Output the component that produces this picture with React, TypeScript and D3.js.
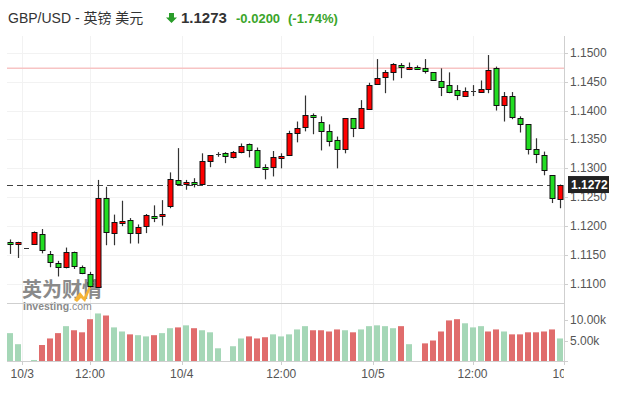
import * as d3 from 'd3'
import { useRef, useEffect } from 'react'

// hourly candles
const opens = [
  1.1173, 1.1169, 1.1162, 1.1170, 1.1186, 1.1151, 1.1136, 1.1129, 1.1155, 1.1129,
  1.1118, 1.1094, 1.1248, 1.1188, 1.1205, 1.1210, 1.1188, 1.1200, 1.1217, 1.1217,
  1.1234, 1.1279, 1.1272, 1.1276, 1.1272, 1.1312, 1.1324, 1.1326, 1.1321, 1.1328,
  1.1342, 1.1331, 1.1302, 1.1302, 1.1317, 1.1323, 1.1361, 1.1373, 1.1393, 1.1381,
  1.1364, 1.1349, 1.1333, 1.1387, 1.1369, 1.1404, 1.1445, 1.1457, 1.1466, 1.1478,
  1.1473, 1.1476, 1.1473, 1.1466, 1.1451, 1.1445, 1.1435, 1.1425, 1.1433, 1.1433,
  1.1438, 1.1473, 1.1409, 1.1425, 1.1387, 1.1376, 1.1333, 1.1323, 1.1288, 1.1248
]
const highs = [
  1.1177, 1.1173, 1.1162, 1.1191, 1.1195, 1.1157, 1.1140, 1.1163, 1.1156, 1.1132,
  1.1121, 1.1280, 1.1268, 1.1220, 1.1244, 1.1214, 1.1203, 1.1221, 1.1236, 1.1245,
  1.1293, 1.1335, 1.1280, 1.1283, 1.1326, 1.1323, 1.1328, 1.1328, 1.1330, 1.1343,
  1.1343, 1.1336, 1.1307, 1.1330, 1.1326, 1.1365, 1.1381, 1.1426, 1.1395, 1.1390,
  1.1376, 1.1355, 1.1387, 1.1387, 1.1418, 1.1448, 1.1489, 1.1470, 1.1482, 1.1482,
  1.1483, 1.1478, 1.1489, 1.1466, 1.1473, 1.1466, 1.1444, 1.1440, 1.1444, 1.1452,
  1.1496, 1.1476, 1.1432, 1.1432, 1.1390, 1.1376, 1.1352, 1.1329, 1.1288, 1.1272
]
const lows = [
  1.1152, 1.1145, 1.1162, 1.1169, 1.1153, 1.1129, 1.1113, 1.1127, 1.1126, 1.1117,
  1.1094, 1.1093, 1.1167, 1.1167, 1.1200, 1.1170, 1.1170, 1.1188, 1.1207, 1.1201,
  1.1231, 1.1271, 1.1263, 1.1267, 1.1272, 1.1302, 1.1320, 1.1309, 1.1317, 1.1326,
  1.1319, 1.1302, 1.1281, 1.1286, 1.1300, 1.1323, 1.1345, 1.1364, 1.1359, 1.1331,
  1.1338, 1.1300, 1.1326, 1.1354, 1.1369, 1.1402, 1.1445, 1.1430, 1.1452, 1.1456,
  1.1470, 1.1471, 1.1464, 1.1452, 1.1425, 1.1430, 1.1418, 1.1425, 1.1425, 1.1433,
  1.1430, 1.1400, 1.1381, 1.1385, 1.1362, 1.1324, 1.1309, 1.1288, 1.1240, 1.1231
]
const closes = [
  1.1169, 1.1173, 1.1162, 1.1190, 1.1158, 1.1137, 1.1129, 1.1155, 1.1131, 1.1118,
  1.1097, 1.1248, 1.1190, 1.1207, 1.1209, 1.1188, 1.1198, 1.1219, 1.1214, 1.1221,
  1.1281, 1.1272, 1.1276, 1.1272, 1.1312, 1.1323, 1.1324, 1.1321, 1.1329, 1.1338,
  1.1331, 1.1302, 1.1298, 1.1319, 1.1321, 1.1361, 1.1369, 1.1393, 1.1390, 1.1366,
  1.1347, 1.1333, 1.1387, 1.1369, 1.1404, 1.1445, 1.1456, 1.1466, 1.1480, 1.1475,
  1.1476, 1.1473, 1.1468, 1.1452, 1.1440, 1.1433, 1.1426, 1.1433, 1.1433, 1.1438,
  1.1470, 1.1409, 1.1425, 1.1388, 1.1376, 1.1333, 1.1324, 1.1297, 1.1248, 1.1272
]
const volumes = [
  6800, 4100, 0, 250, 3900, 5500, 6800, 8500, 7500, 7000,
  10200, 11600, 11100, 8200, 7200, 6500, 6300, 6000, 6300, 6800,
  8000, 8200, 8700, 8000, 7500, 7000, 3100, 0, 3600, 5500,
  6000, 5500, 5800, 6500, 6000, 6500, 7700, 8500, 7500, 7500,
  7200, 7700, 7500, 7000, 7700, 8500, 8700, 8500, 8000, 8500,
  4100, 0, 4300, 5000, 7200, 9900, 10200, 9200, 8200, 8500,
  7200, 7700, 7200, 6500, 6500, 7000, 7000, 7200, 7700, 5500
]
// 1 = green volume bar, 0 = red
const volumeUp = [
  1, 1, 1, 1, 0, 0, 0, 1, 0, 0,
  0, 1, 0, 1, 1, 0, 1, 1, 0, 1,
  1, 0, 1, 0, 1, 1, 1, 1, 1, 1,
  0, 0, 0, 1, 1, 1, 1, 1, 0, 0,
  0, 0, 1, 0, 1, 1, 1, 1, 1, 0,
  1, 1, 0, 0, 0, 0, 0, 1, 1, 1,
  0, 0, 1, 0, 0, 0, 0, 0, 0, 1
]

const timeTickPos = [1.5, 10, 21.5, 34, 45.5, 58, 69.5]
const timeTickLabels = ['10/3', '12:00', '10/4', '12:00', '10/5', '12:00', '10/6']
const priceTicks = [1.11, 1.115, 1.12, 1.125, 1.13, 1.135, 1.14, 1.145, 1.15]
const volumeTicks = [5000, 10000]
const prevClose = 1.1473
const lastPrice = 1.1272

const UP = '#ff0000'
const DOWN = '#22dd22'
const VOL_UP = '#a5d7b7'
const VOL_DOWN = '#e06c6c'

function App() {
  const svgRef = useRef()

  useEffect(() => {
    const svg = d3.select(svgRef.current)
    svg.selectAll('*').remove()

    const left = 7
    const right = 564
    const priceTop = 36
    const priceBottom = 303
    const volBottom = 361

    const scaleX = d3.scaleLinear().domain([0, 69]).range([10.3, 560.2])
    const scaleY = d3.scaleLinear().domain([1.10671, 1.1522]).range([priceBottom, 40])
    const scaleV = d3.scaleLinear().domain([0, 14150]).range([volBottom, priceBottom])

    const font = 'Arial, "Liberation Sans", "Noto Sans CJK SC", sans-serif'

    // grid
    const gGrid = svg.append('g')
    gGrid.selectAll('.vgrid')
      .data(timeTickPos)
      .join('line')
      .attr('x1', d => Math.round(scaleX(d)) + 0.5)
      .attr('x2', d => Math.round(scaleX(d)) + 0.5)
      .attr('y1', priceTop)
      .attr('y2', volBottom)
      .attr('stroke', '#f2f2f2')
    gGrid.selectAll('.hgrid')
      .data(priceTicks)
      .join('line')
      .attr('x1', left)
      .attr('x2', right)
      .attr('y1', d => Math.round(scaleY(d)) + 0.5)
      .attr('y2', d => Math.round(scaleY(d)) + 0.5)
      .attr('stroke', '#f2f2f2')

    // prev close line
    svg.append('line')
      .attr('x1', left).attr('x2', right)
      .attr('y1', scaleY(prevClose)).attr('y2', scaleY(prevClose))
      .attr('stroke', '#f7c4c4')
      .attr('stroke-width', 1.5)

    // watermark
    const gMark = svg.append('g')
    gMark.append('text')
      .attr('x', 22).attr('y', 297)
      .attr('font-family', '"Noto Sans CJK SC", sans-serif')
      .attr('font-weight', 'bold')
      .attr('font-size', 20)
      .attr('fill', '#8a8a8a')
      .attr('letter-spacing', 0)
      .text('英为财情')
    gMark.append('path')
      .attr('d', 'M74,300 L80,292 L84,297 L90,284 L92,285 L85,302 L81,298 L77,302 Z')
      .attr('fill', '#f5b335')
    gMark.append('text')
      .attr('x', 23).attr('y', 310)
      .attr('font-family', font)
      .attr('font-size', 10.5)
      .attr('fill', '#8a8a8a')
      .call(t => {
        t.append('tspan').attr('font-weight', 'bold').text('Investing')
        t.append('tspan').text('.com')
      })

    // last price dashed line
    svg.append('line')
      .attr('x1', left).attr('x2', right)
      .attr('y1', Math.round(scaleY(lastPrice)) + 0.5)
      .attr('y2', Math.round(scaleY(lastPrice)) + 0.5)
      .attr('stroke', '#444')
      .attr('stroke-dasharray', '6,4')

    // pane borders
    svg.append('line')
      .attr('x1', left).attr('x2', right)
      .attr('y1', priceBottom + 0.5).attr('y2', priceBottom + 0.5)
      .attr('stroke', '#cfcfcf')
    svg.append('line')
      .attr('x1', left).attr('x2', right + 4)
      .attr('y1', volBottom + 0.5).attr('y2', volBottom + 0.5)
      .attr('stroke', '#cfcfcf')
    svg.append('line')
      .attr('x1', right + 0.5).attr('x2', right + 0.5)
      .attr('y1', priceTop).attr('y2', volBottom)
      .attr('stroke', '#cfcfcf')

    // volume bars
    svg.append('g')
      .selectAll('rect')
      .data(volumes.map((v, i) => ({ v, i })).filter(d => d.v > 0))
      .join('rect')
      .attr('x', d => Math.round(scaleX(d.i)) - 3)
      .attr('width', 6)
      .attr('y', d => scaleV(d.v))
      .attr('height', d => volBottom - scaleV(d.v))
      .attr('fill', d => volumeUp[d.i] ? VOL_UP : VOL_DOWN)

    // candles
    const candles = opens.map((o, i) => ({ i, o, h: highs[i], l: lows[i], c: closes[i] }))
    const gCandle = svg.append('g')
    gCandle.selectAll('.wick')
      .data(candles)
      .join('line')
      .attr('x1', d => Math.round(scaleX(d.i)) + 0.5)
      .attr('x2', d => Math.round(scaleX(d.i)) + 0.5)
      .attr('y1', d => scaleY(d.h))
      .attr('y2', d => scaleY(d.l))
      .attr('stroke', '#333')
      .attr('stroke-width', 1.2)
    gCandle.selectAll('.flat')
      .data(candles.filter(d => d.o === d.c))
      .join('line')
      .attr('x1', d => Math.round(scaleX(d.i)) - 2)
      .attr('x2', d => Math.round(scaleX(d.i)) + 3)
      .attr('y1', d => Math.round(scaleY(d.o)) + 0.5)
      .attr('y2', d => Math.round(scaleY(d.o)) + 0.5)
      .attr('stroke', '#333')
    gCandle.selectAll('.body')
      .data(candles.filter(d => d.o !== d.c))
      .join('rect')
      .attr('x', d => Math.round(scaleX(d.i)) - 2)
      .attr('width', 5)
      .attr('y', d => Math.round(scaleY(Math.max(d.o, d.c))) + 0.5)
      .attr('height', d => Math.max(1, Math.round(Math.abs(scaleY(d.o) - scaleY(d.c)))))
      .attr('fill', d => d.c > d.o ? UP : DOWN)
      .attr('stroke', '#111')
      .attr('stroke-width', 1)

    // right axis
    const gAxis = svg.append('g').attr('font-family', font).attr('font-size', 12).attr('fill', '#555')
    gAxis.selectAll('.ptick')
      .data(priceTicks)
      .join('line')
      .attr('x1', right).attr('x2', right + 4)
      .attr('y1', d => Math.round(scaleY(d)) + 0.5)
      .attr('y2', d => Math.round(scaleY(d)) + 0.5)
      .attr('stroke', '#cfcfcf')
    gAxis.selectAll('.plabel')
      .data(priceTicks.filter(d => Math.abs(scaleY(d) - scaleY(lastPrice)) > 12))
      .join('text')
      .attr('x', 570)
      .attr('y', d => scaleY(d) + 4)
      .text(d => d3.format('.4f')(d))
    gAxis.selectAll('.vtick')
      .data(volumeTicks)
      .join('line')
      .attr('x1', right).attr('x2', right + 4)
      .attr('y1', d => Math.round(scaleV(d)) + 0.5)
      .attr('y2', d => Math.round(scaleV(d)) + 0.5)
      .attr('stroke', '#cfcfcf')
    gAxis.selectAll('.vlabel')
      .data(volumeTicks)
      .join('text')
      .attr('x', 570)
      .attr('y', d => scaleV(d) + 4)
      .text(d => (d / 1000).toFixed(2) + 'k')

    // label partly hidden under the price tag, kept below it
    const hidden = priceTicks.filter(d => Math.abs(scaleY(d) - scaleY(lastPrice)) <= 12)
    gAxis.selectAll('.plabel-hidden')
      .data(hidden)
      .join('text')
      .attr('x', 570)
      .attr('y', d => scaleY(d) + 4)
      .text(d => d3.format('.4f')(d))

    // last price tag
    const yLast = scaleY(lastPrice)
    svg.append('rect')
      .attr('x', 568).attr('y', yLast - 8.5)
      .attr('width', 41).attr('height', 17)
      .attr('fill', '#222')
    svg.append('text')
      .attr('x', 571).attr('y', yLast + 4.5)
      .attr('font-family', font).attr('font-size', 12).attr('font-weight', 'bold')
      .attr('fill', '#fff')
      .text(d3.format('.4f')(lastPrice))

    // bottom axis
    const gTime = svg.append('g')
    gTime.append('clipPath').attr('id', 'clip-time')
      .append('rect').attr('x', 0).attr('y', volBottom).attr('width', right).attr('height', 30)
    gTime.selectAll('.ttick')
      .data(timeTickPos)
      .join('line')
      .attr('x1', d => Math.round(scaleX(d)) + 0.5)
      .attr('x2', d => Math.round(scaleX(d)) + 0.5)
      .attr('y1', volBottom).attr('y2', volBottom + 4)
      .attr('stroke', '#cfcfcf')
    gTime.selectAll('.tlabel')
      .data(timeTickPos)
      .join('text')
      .attr('clip-path', 'url(#clip-time)')
      .attr('x', d => scaleX(d))
      .attr('y', 378)
      .attr('text-anchor', 'middle')
      .attr('font-family', font).attr('font-size', 12).attr('fill', '#555')
      .text((d, i) => timeTickLabels[i])

    // header
    const gHead = svg.append('g').attr('font-family', font)
    gHead.append('text')
      .attr('x', 8).attr('y', 23)
      .attr('font-size', 14).attr('fill', '#333')
      .text('GBP/USD - 英镑 美元')
    gHead.append('path')
      .attr('d', 'M169,13 L174,13 L174,17.5 L177,17.5 L171.5,23 L166,17.5 L169,17.5 Z')
      .attr('fill', '#2a9d2a')
    gHead.append('text')
      .attr('x', 181).attr('y', 23)
      .attr('font-size', 15).attr('font-weight', 'bold').attr('fill', '#333')
      .text('1.1273')
    gHead.append('text')
      .attr('x', 236).attr('y', 23)
      .attr('font-size', 13).attr('font-weight', 'bold').attr('fill', '#3aa52a')
      .text('-0.0200')
    gHead.append('text')
      .attr('x', 288).attr('y', 23)
      .attr('font-size', 13).attr('font-weight', 'bold').attr('fill', '#3aa52a')
      .text('(-1.74%)')
  }, [])

  return (
    <svg ref={svgRef} width={620} height={399}
      style={{ position: 'absolute', left: 0, top: 0, background: '#fff' }}></svg>
  )
}

export default App
